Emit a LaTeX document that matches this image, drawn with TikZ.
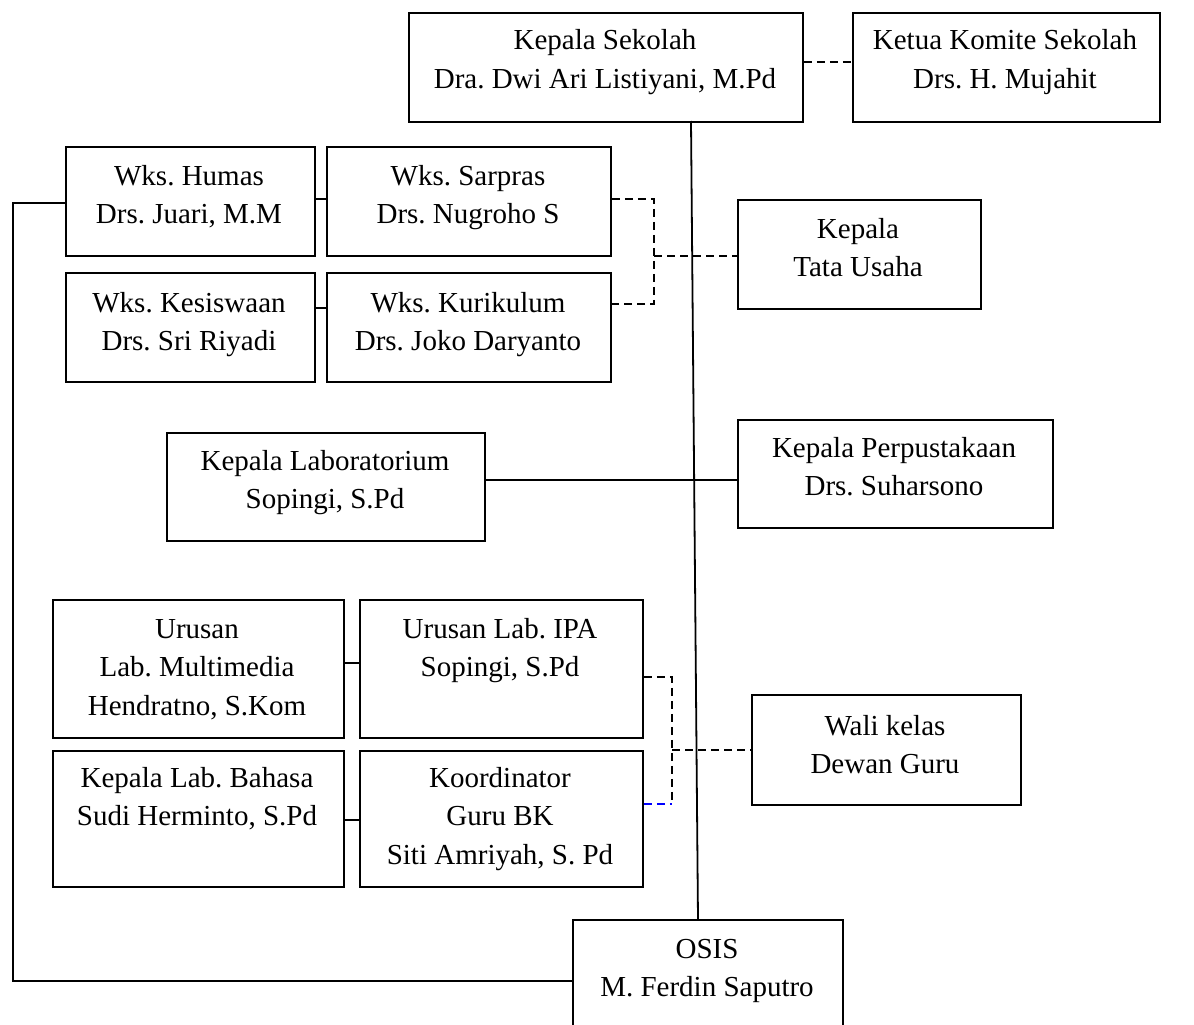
\documentclass[tikz,border=0pt]{standalone}
\usepackage{fontspec}
\setmainfont{Liberation Serif}
\begin{document}
\frenchspacing
\begin{tikzpicture}[x=1pt,y=-1pt,
  box/.style={draw, line width=1.8pt, rectangle, inner sep=0pt, anchor=north west},
  txt/.style={anchor=base, inner sep=0pt, font=\fontsize{29}{38.5}\selectfont},
  conn/.style={line width=1.8pt},
  dconn/.style={line width=1.8pt, dash pattern=on 8pt off 5pt},
]
\useasboundingbox (0,0) rectangle (1194,1025);
\newcommand{\tl}[1]{\begin{tabular}[t]{@{}c@{}}#1\end{tabular}}

% boxes
\node[box, minimum width=394pt, minimum height=109pt] (ks) at (408,12) {};
\node[box, minimum width=307pt, minimum height=109pt] (kom) at (852,12) {};
\node[box, minimum width=249pt, minimum height=109pt] (hum) at (65,146) {};
\node[box, minimum width=284pt, minimum height=109pt] (sar) at (326,146) {};
\node[box, minimum width=249pt, minimum height=109pt] (kes) at (65,272) {};
\node[box, minimum width=284pt, minimum height=109pt] (kur) at (326,272) {};
\node[box, minimum width=243pt, minimum height=109pt] (tu) at (737,199) {};
\node[box, minimum width=318pt, minimum height=108pt] (lab) at (166,432) {};
\node[box, minimum width=315pt, minimum height=108pt] (pus) at (737,419) {};
\node[box, minimum width=291pt, minimum height=138pt] (mm) at (52,599) {};
\node[box, minimum width=283pt, minimum height=138pt] (ipa) at (359,599) {};
\node[box, minimum width=291pt, minimum height=136pt] (bhs) at (52,750) {};
\node[box, minimum width=283pt, minimum height=136pt] (bk) at (359,750) {};
\node[box, minimum width=269pt, minimum height=110pt] (wk) at (751,694) {};
\node[box, draw=none, minimum width=268pt, minimum height=106pt] (osis) at (573,920) {};
\draw[conn] (osis.south west) -- (osis.north west) -- (osis.north east) -- (osis.south east);

% texts
\node[txt] (ks-t) at (605,50) {\tl{Kepala Sekolah\\Dra. Dwi Ari Listiyani, M.Pd}};
\node[txt] (kom-t) at (1005,50) {\tl{Ketua Komite Sekolah\\Drs. H. Mujahit}};
\node[txt] (hum-t) at (189,185) {\tl{Wks. Humas\\Drs. Juari, M.M}};
\node[txt] (sar-t) at (468,185) {\tl{Wks. Sarpras\\Drs. Nugroho S}};
\node[txt] (kes-t) at (189,312) {\tl{Wks. Kesiswaan\\Drs. Sri Riyadi}};
\node[txt] (kur-t) at (468,312) {\tl{Wks. Kurikulum\\Drs. Joko Daryanto}};
\node[txt] (tu-t) at (858,238) {\tl{Kepala\\Tata Usaha}};
\node[txt] (lab-t) at (325,470) {\tl{Kepala Laboratorium\\Sopingi, S.Pd}};
\node[txt] (pus-t) at (894,457) {\tl{Kepala Perpustakaan\\Drs. Suharsono}};
\node[txt] (mm-t) at (197,638) {\tl{Urusan\\Lab. Multimedia\\Hendratno, S.Kom}};
\node[txt] (ipa-t) at (500,638) {\tl{Urusan Lab. IPA\\Sopingi, S.Pd}};
\node[txt] (bhs-t) at (197,787) {\tl{Kepala Lab. Bahasa\\Sudi Herminto, S.Pd}};
\node[txt] (bk-t) at (500,787) {\tl{Koordinator\\Guru BK\\Siti Amriyah, S. Pd}};
\node[txt] (wk-t) at (885,735) {\tl{Wali kelas\\Dewan Guru}};
\node[txt] (osis-t) at (707,958) {\tl{OSIS\\M. Ferdin Saputro}};

% coordinates
\coordinate (ksb) at (691,121);
\coordinate (ost) at (698,920);
\coordinate (b1t) at (654,199);
\coordinate (b1b) at (654,304);
\coordinate (b1m) at (654,256);
\coordinate (b2t) at (672,677);
\coordinate (b2b) at (672,804);
\coordinate (b2m) at (672,750);
\coordinate (lft) at (13,203);
\coordinate (lfb) at (13,981);

% connectors
\draw[dconn] (ks.east |- 0,62) -- (kom.west |- 0,62);
\draw[conn] (ksb) -- (ost);
\draw[conn] (hum.east |- 0,199) -- (sar.west |- 0,199);
\draw[conn] (kes.east |- 0,308) -- (kur.west |- 0,308);
\draw[dconn] (sar.east |- b1t) -- (b1t) -- (b1b) -- (kur.east |- b1b);
\draw[dconn] (b1m) -- (tu.west |- b1m);
\draw[conn] (lab.east |- 0,480) -- (pus.west |- 0,480);
\draw[conn] (mm.east |- 0,663) -- (ipa.west |- 0,663);
\draw[conn] (bhs.east |- 0,820) -- (bk.west |- 0,820);
\draw[dconn] (ipa.east |- b2t) -- (b2t) -- (b2b);
\draw[dconn, blue] (bk.east |- b2b) -- (b2b);
\draw[dconn] (b2m) -- (wk.west |- b2m);
\draw[conn] (hum.west |- lft) -- (lft) -- (lfb) -- (osis.west |- lfb);
\end{tikzpicture}
\end{document}
